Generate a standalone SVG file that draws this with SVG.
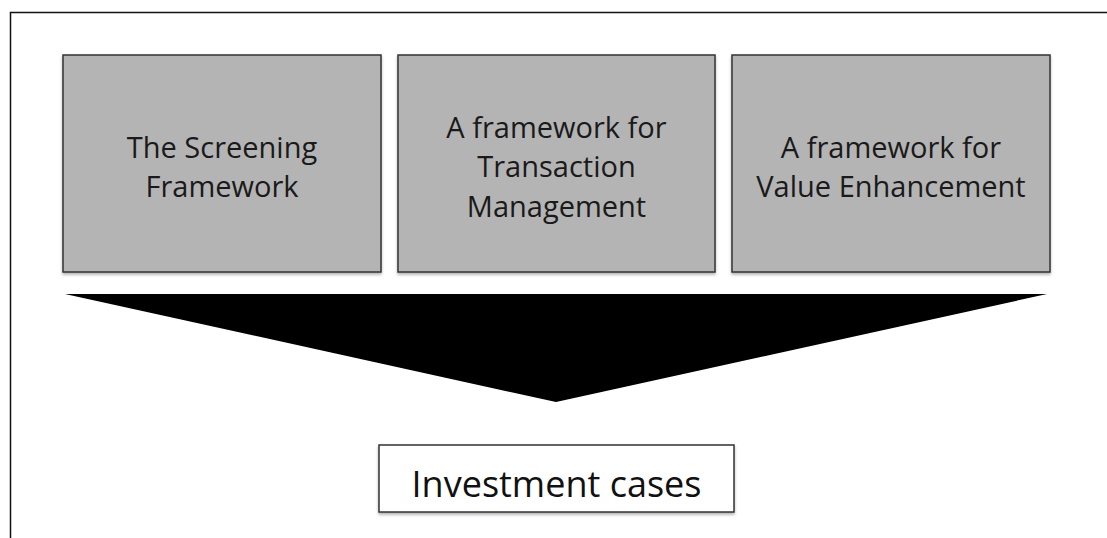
<svg xmlns="http://www.w3.org/2000/svg" width="1107" height="538" viewBox="0 0 1107 538">
  <defs>
    <filter id="shadow" x="-5%" y="-5%" width="110%" height="115%">
      <feDropShadow dx="0" dy="2" stdDeviation="1.5" flood-color="#000" flood-opacity="0.3"/>
    </filter>
  </defs>
  <style>
    .box { fill: #b4b4b4; stroke: #333333; stroke-width: 1.5; }
    .out { fill: #ffffff; stroke: #333333; stroke-width: 1.5; }
    .lbl { font-family: "Open Sans", "Liberation Sans", sans-serif; font-size: 29px; fill: #1a1a1a; text-anchor: middle; }
    .big { font-family: "Open Sans", "Liberation Sans", sans-serif; font-size: 36px; fill: #111111; text-anchor: middle; }
    .frame { fill: none; stroke: #111111; stroke-width: 1.5; }
  </style>
  <rect width="1107" height="538" fill="#ffffff"/>
  <path class="frame" d="M10.5 538 V12.5 H1107"/>

  <g id="node-screening">
    <rect class="box" x="63" y="55" width="318" height="217" filter="url(#shadow)"/>
    <text class="lbl" x="222" y="158">The Screening</text>
    <text class="lbl" x="222" y="197">Framework</text>
  </g>

  <g id="node-transaction">
    <rect class="box" x="398" y="55" width="317" height="217" filter="url(#shadow)"/>
    <text class="lbl" x="556.5" y="138">A framework for</text>
    <text class="lbl" x="556.5" y="177">Transaction</text>
    <text class="lbl" x="556.5" y="217">Management</text>
  </g>

  <g id="node-value">
    <rect class="box" x="732" y="55" width="318" height="217" filter="url(#shadow)"/>
    <text class="lbl" x="891" y="158">A framework for</text>
    <text class="lbl" x="891" y="197">Value Enhancement</text>
  </g>

  <g id="connectors">
    <polygon points="65,294 1047,294 556,402" fill="#000000"/>
  </g>

  <g id="node-investment">
    <rect class="out" x="379" y="445" width="355" height="67" filter="url(#shadow)"/>
    <text class="big" x="556.5" y="497">Investment cases</text>
  </g>
</svg>
